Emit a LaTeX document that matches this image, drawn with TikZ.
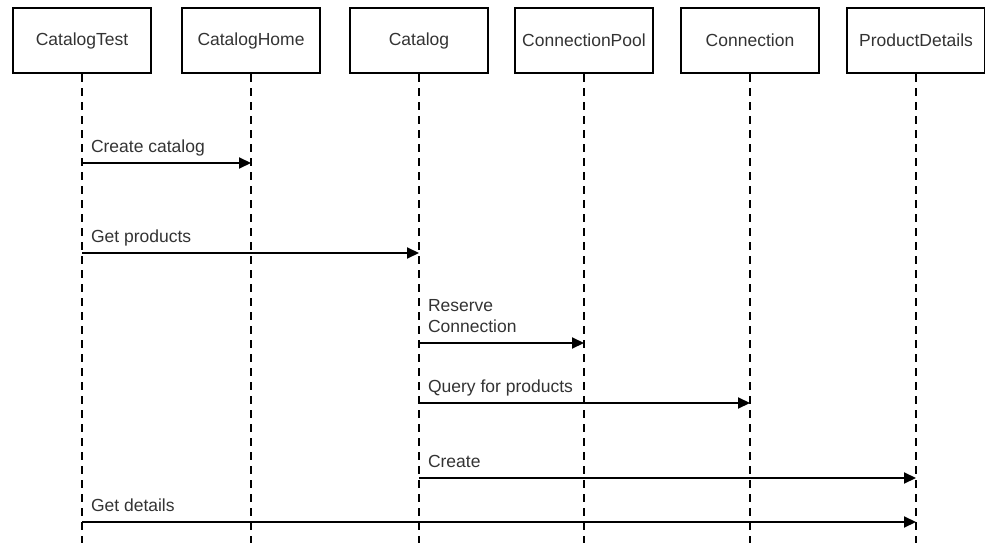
\documentclass[tikz,border=0pt]{standalone}
\usepackage{fontspec}
\setmainfont{Liberation Sans}
\usetikzlibrary{arrows.meta}

\begin{document}
\begin{tikzpicture}[x=1pt,y=-1pt,
  object/.style={draw,line width=2pt,minimum width=138pt,minimum height=65pt,
    inner sep=0pt,font=\fontsize{17.5}{21}\selectfont,text=black!80},
  lifeline/.style={line width=2pt,dash pattern=on 8pt off 6pt},
  message/.style={line width=2pt,-{Triangle[length=12pt,width=11pt]}},
  msg label/.style={anchor=south west,inner sep=0pt,text depth=4pt,align=left,
    font=\fontsize{17.5}{21}\selectfont,text=black!80,xshift=8pt,yshift=6pt}]
  \useasboundingbox (0,0) rectangle (985,543);

  % objects
  \node[object] (ctest) at (82,40.5) {CatalogTest};
  \node[object] (chome) at (251,40.5) {CatalogHome};
  \node[object] (catalog) at (419,40.5) {Catalog};
  \node[object] (pool) at (584,40.5) {ConnectionPool};
  \node[object] (conn) at (750,40.5) {Connection};
  \node[object] (details) at (916,40.5) {ProductDetails};

  % lifelines
  \coordinate (ctestEnd) at (ctest.south |- 0,543);
  \coordinate (chomeEnd) at (chome.south |- 0,543);
  \coordinate (catalogEnd) at (catalog.south |- 0,543);
  \coordinate (poolEnd) at (pool.south |- 0,543);
  \coordinate (connEnd) at (conn.south |- 0,543);
  \coordinate (detailsEnd) at (details.south |- 0,543);
  \draw[lifeline] (ctest.south) -- (ctestEnd);
  \draw[lifeline] (chome.south) -- (chomeEnd);
  \draw[lifeline] (catalog.south) -- (catalogEnd);
  \draw[lifeline] (pool.south) -- (poolEnd);
  \draw[lifeline] (conn.south) -- (connEnd);
  \draw[lifeline] (details.south) -- (detailsEnd);

  % messages
  \draw[message] (ctest.south |- 0,163) node[msg label] (m1) {Create catalog}
    -- (chome.south |- 0,163);
  \draw[message] (ctest.south |- 0,253) node[msg label] (m2) {Get products}
    -- (catalog.south |- 0,253);
  \draw[message] (catalog.south |- 0,343) node[msg label] (m3) {Reserve\\Connection}
    -- (pool.south |- 0,343);
  \draw[message] (catalog.south |- 0,403) node[msg label] (m4) {Query for products}
    -- (conn.south |- 0,403);
  \draw[message] (catalog.south |- 0,478) node[msg label] (m5) {Create}
    -- (details.south |- 0,478);
  \draw[message] (ctest.south |- 0,522) node[msg label] (m6) {Get details}
    -- (details.south |- 0,522);
\end{tikzpicture}
\end{document}
